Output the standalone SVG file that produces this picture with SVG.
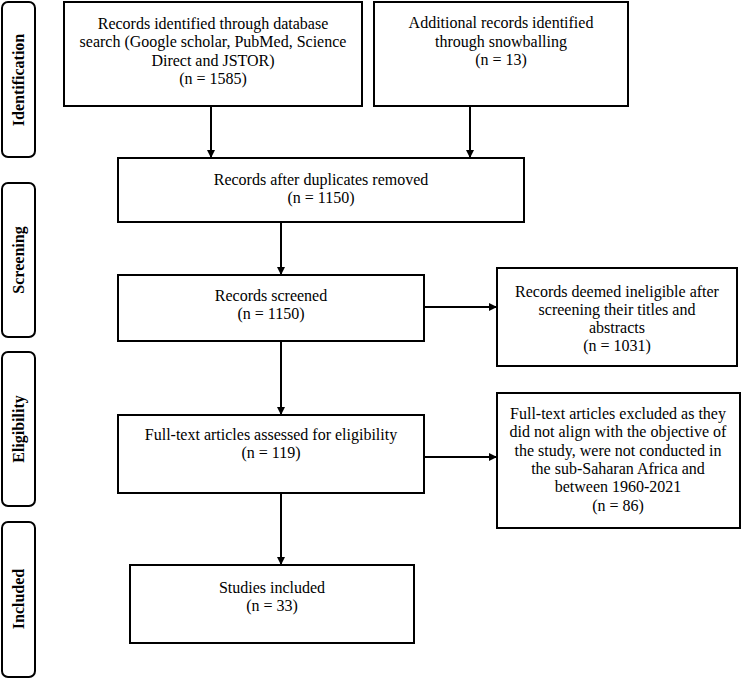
<svg xmlns="http://www.w3.org/2000/svg" width="742" height="680" viewBox="0 0 742 680">
<style>
.box{fill:#fff;stroke:#000;stroke-width:2}
.side{fill:#fff;stroke:#000;stroke-width:2}
.t{font-family:"Liberation Serif","Times New Roman",serif;font-size:16px;fill:#000;text-anchor:middle}
.s{font-family:"Liberation Serif","Times New Roman",serif;font-size:16px;font-weight:bold;fill:#000;text-anchor:middle}
.c{stroke:#000;stroke-width:2;fill:none;marker-end:url(#ah)}
</style>
<defs>
<marker id="ah" markerWidth="8" markerHeight="8" refX="8" refY="4" orient="auto" markerUnits="userSpaceOnUse">
<path d="M0,0 L8,4 L0,8 Z" fill="#000"/>
</marker>
</defs>
<rect width="742" height="680" fill="#fff"/>
<g id="phase-identification">
<rect class="side" x="2" y="2" width="33" height="155" rx="6"/>
<text class="s" transform="translate(24,80) rotate(-90)">Identification</text>
</g>
<g id="phase-screening">
<rect class="side" x="2" y="183" width="33" height="154" rx="6"/>
<text class="s" transform="translate(24,260) rotate(-90)">Screening</text>
</g>
<g id="phase-eligibility">
<rect class="side" x="2" y="352" width="33" height="154" rx="6"/>
<text class="s" transform="translate(24,429) rotate(-90)">Eligibility</text>
</g>
<g id="phase-included">
<rect class="side" x="2" y="522" width="33" height="155" rx="6"/>
<text class="s" transform="translate(24,599) rotate(-90)">Included</text>
</g>
<g id="connectors">
<line class="c" x1="211" y1="106" x2="211" y2="158"/>
<line class="c" x1="470" y1="106" x2="470" y2="158"/>
<line class="c" x1="281" y1="222" x2="281" y2="275"/>
<line class="c" x1="424" y1="307" x2="497" y2="307"/>
<line class="c" x1="281" y1="341" x2="281" y2="415"/>
<line class="c" x1="424" y1="457" x2="497" y2="457"/>
<line class="c" x1="281" y1="493" x2="281" y2="565"/>
</g>
<g id="db-search">
<rect class="box" x="64" y="2" width="298" height="104"/>
<text class="t" x="213" y="29">Records identified through database</text>
<text class="t" x="213" y="47">search (Google scholar, PubMed, Science</text>
<text class="t" x="213" y="66">Direct and JSTOR)</text>
<text class="t" x="213" y="84">(n = 1585)</text>
</g>
<g id="snowballing">
<rect class="box" x="374" y="2" width="254" height="104"/>
<text class="t" x="501" y="28">Additional records identified</text>
<text class="t" x="501" y="47">through snowballing</text>
<text class="t" x="501" y="65">(n = 13)</text>
</g>
<g id="duplicates-removed">
<rect class="box" x="118" y="158" width="406" height="64"/>
<text class="t" x="321" y="185">Records after duplicates removed</text>
<text class="t" x="321" y="203">(n = 1150)</text>
</g>
<g id="screened">
<rect class="box" x="118" y="275" width="306" height="66"/>
<text class="t" x="271" y="301">Records screened</text>
<text class="t" x="271" y="319">(n = 1150)</text>
</g>
<g id="ineligible">
<rect class="box" x="497" y="268" width="240" height="98"/>
<text class="t" x="617" y="297">Records deemed ineligible after</text>
<text class="t" x="617" y="315">screening their titles and</text>
<text class="t" x="617" y="333">abstracts</text>
<text class="t" x="617" y="351">(n = 1031)</text>
</g>
<g id="fulltext-assessed">
<rect class="box" x="118" y="415" width="306" height="78"/>
<text class="t" x="271" y="440">Full-text articles assessed for eligibility</text>
<text class="t" x="271" y="458">(n = 119)</text>
</g>
<g id="fulltext-excluded">
<rect class="box" x="497" y="393" width="243" height="135"/>
<text class="t" x="618" y="419">Full-text articles excluded as they</text>
<text class="t" x="618" y="437">did not align with the objective of</text>
<text class="t" x="618" y="456">the study, were not conducted in</text>
<text class="t" x="618" y="474">the sub-Saharan Africa and</text>
<text class="t" x="618" y="492">between 1960-2021</text>
<text class="t" x="618" y="511">(n = 86)</text>
</g>
<g id="included">
<rect class="box" x="130" y="565" width="284" height="78"/>
<text class="t" x="272" y="593">Studies included</text>
<text class="t" x="272" y="611">(n = 33)</text>
</g>
</svg>
